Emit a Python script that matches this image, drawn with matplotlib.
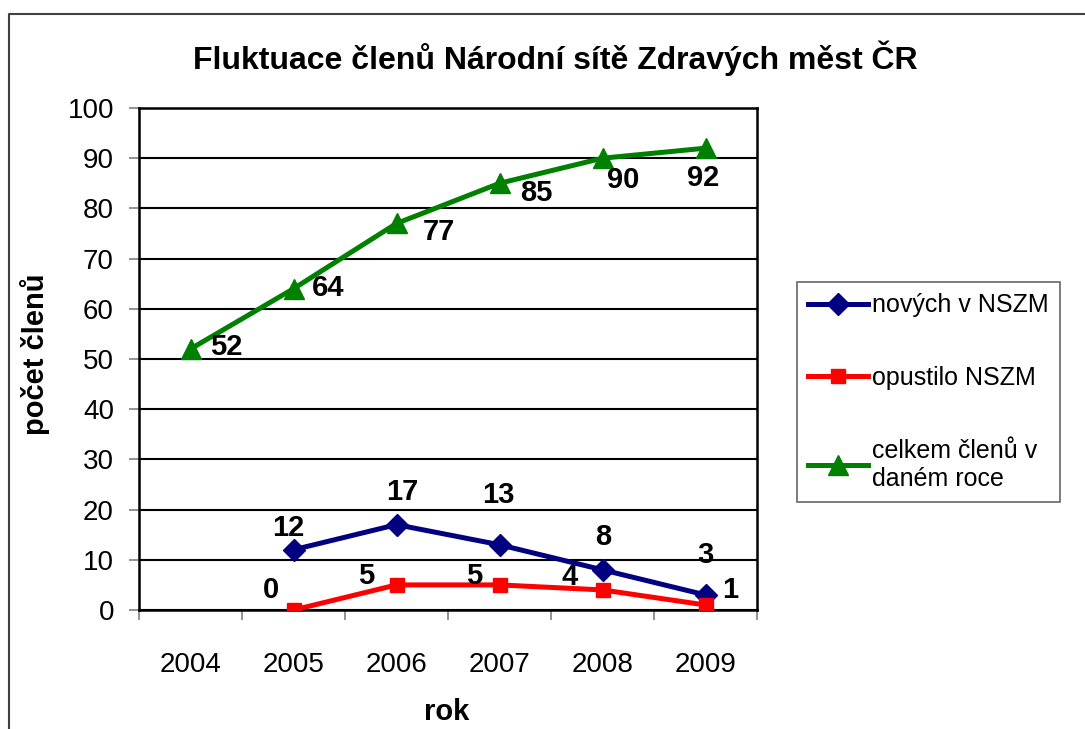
import matplotlib
matplotlib.use("Agg")
import matplotlib.pyplot as plt
from matplotlib.lines import Line2D

plt.rcParams['font.family'] = ['Liberation Sans', 'DejaVu Sans']

years = ['2004', '2005', '2006', '2007', '2008', '2009']
new_members = [None, 12, 17, 13, 8, 3]
left_members = [None, 0, 5, 5, 4, 1]
total_members = [52, 64, 77, 85, 90, 92]
series_names = ['nových v NSZM', 'opustilo NSZM', 'celkem členů v\ndaném roce']

# label offsets in pixels (dx, dy)
off_new = [None, (-5, 22), (6, 33), (-1, 50), (1, 33), (0, 40)]
off_left = [None, (-23, 20), (-30, 9), (-25, 9), (-33, 13), (25, 15)]
off_total = [(36, 2), (35, 1), (42, -9), (37, -10), (21, -22), (-2, -30)]

W, H = 1085, 729
fig = plt.figure(figsize=(W / 100, H / 100), dpi=100)
ax = fig.add_axes([139 / W, 1 - 610 / H, (757 - 139) / W, (610 - 108) / H])

x = list(range(len(years)))
blue, red, green = '#000080', '#FF0000', '#008000'

def pts(vals):
    xs = [i for i, v in zip(x, vals) if v is not None]
    ys = [v for v in vals if v is not None]
    return xs, ys

xs, ys = pts(new_members)
l1, = ax.plot(xs, ys, color=blue, lw=3.6, marker='D', ms=11, zorder=4)
xs, ys = pts(left_members)
l2, = ax.plot(xs, ys, color=red, lw=3.6, marker='s', ms=10, zorder=5)
l3, = ax.plot(x, total_members, color=green, lw=3.6, marker='^', ms=15, zorder=4)

lab_kw = dict(textcoords='offset pixels', ha='center', va='center',
              fontsize=21, fontweight='bold', zorder=6)
for i, v in enumerate(new_members):
    if v is not None:
        ax.annotate(str(v), (i, v), xytext=off_new[i], **lab_kw)
for i, v in enumerate(left_members):
    if v is not None:
        ax.annotate(str(v), (i, v), xytext=off_left[i], **lab_kw)
for i, v in enumerate(total_members):
    ax.annotate(str(v), (i, v), xytext=off_total[i], **lab_kw)

ax.set_xlim(-0.5, len(years) - 0.5)
ax.set_ylim(0, 100)
ax.set_yticks(range(0, 101, 10))
ax.yaxis.grid(True, color='black', lw=1.5)
ax.set_axisbelow(True)
ax.tick_params(axis='y', length=7, width=1.2, color='#808080', pad=11, labelsize=20)
ax.set_xticks(x)
ax.set_xticklabels(years)
ax.tick_params(axis='x', which='major', length=0, pad=30, labelsize=20)
ax.set_xticks([i - 0.5 for i in range(len(years) + 1)], minor=True)
ax.tick_params(axis='x', which='minor', length=7, width=1.2, color='#808080')
for s in ax.spines.values():
    s.set_linewidth(1.8)
    s.set_color('black')

fig.text(555 / W, 1 - 58 / H, 'Fluktuace členů Národní sítě Zdravých měst ČR',
         ha='center', va='center', fontsize=23, fontweight='bold')
fig.text(447 / W, 1 - 712 / H, 'rok', ha='center', va='center',
         fontsize=21, fontweight='bold')
fig.text(35 / W, 1 - 354 / H, 'počet členů', ha='center', va='center',
         rotation=90, fontsize=21, fontweight='bold')

leg = fig.legend([l1, l2, l3], series_names, loc='upper left',
                 bbox_to_anchor=(797 / W, 1 - 282 / H), fontsize=18,
                 frameon=True, fancybox=False, edgecolor='#404040',
                 handlelength=2.4, handletextpad=0.15, labelspacing=1.95,
                 borderpad=0.45, borderaxespad=0)
leg.get_frame().set_linewidth(1.2)

# outer chart border (left and top only visible)
fig.add_artist(Line2D([9 / W, 9 / W, 1.0], [0, 1 - 14 / H, 1 - 14 / H],
                      transform=fig.transFigure, color='#404040', lw=1.5))

fig.savefig('out.png', dpi=100, facecolor='white')
